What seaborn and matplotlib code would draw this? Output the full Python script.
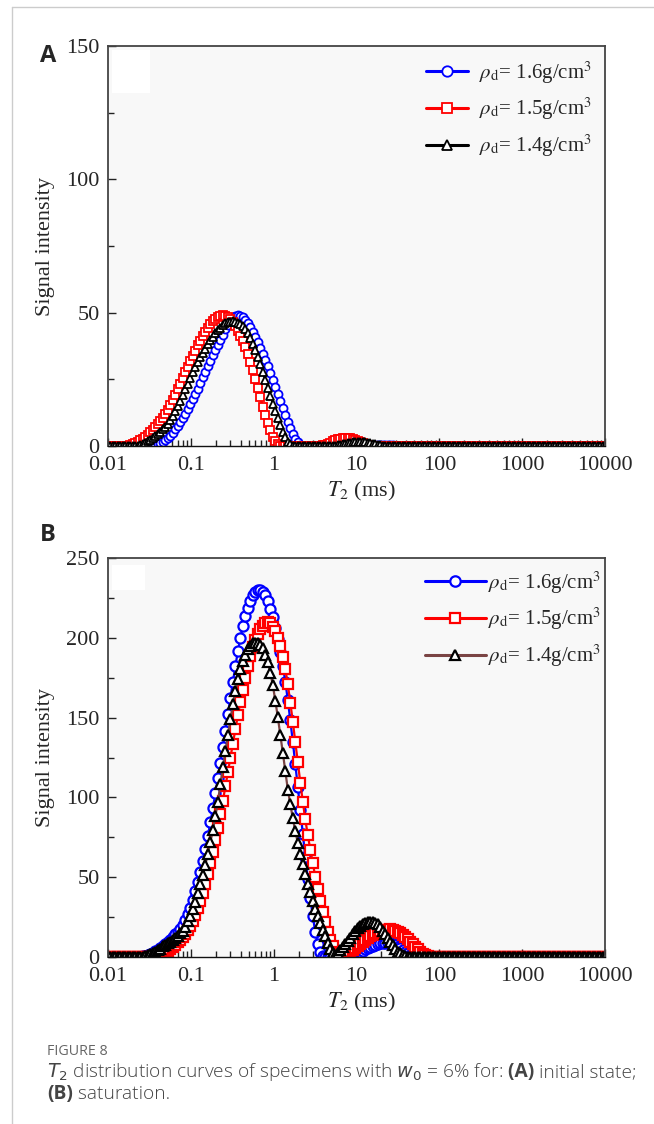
#!/usr/bin/env python3
"""
T2 distribution curves (NMR) for specimens with w0 = 6%
Panel A: initial state, panel B: saturation
"""

import numpy as np
import matplotlib
matplotlib.use("Agg")
import matplotlib.pyplot as plt
import seaborn as sns
from matplotlib.lines import Line2D
from matplotlib.patches import Rectangle
from matplotlib.ticker import LogLocator, MultipleLocator, NullFormatter

# T2 inversion grid of the NMR analyser: 200 points, log spaced 0.01 - 10000 ms
T2_GRID = np.logspace(-2, 4, 200)

# ---- panel A: initial state ----
a_rho16 = [0.0] * 19 + [
    0.3, 0.6, 1.0, 1.5, 2.3, 3.0, 3.9, 5.0, 6.2, 7.4,
    8.9, 10.4, 12.0, 13.8, 15.6, 17.5, 19.5, 21.5, 23.6, 25.7,
    27.8, 30.0, 32.0, 34.1, 36.1, 38.0, 39.9, 41.8, 43.7, 45.4,
    46.8, 48.1, 48.8, 49.1, 48.9, 48.3, 47.4, 46.1, 44.6, 42.9,
    41.0, 39.0, 36.8, 34.6, 32.2, 29.9, 27.4, 24.9, 22.3, 19.6,
    16.8, 14.2, 11.6, 9.0, 6.7, 4.6, 2.8, 1.5, 0.5,
] + [0.0] * 25 + [
    0.1, 0.15, 0.2, 0.3, 0.35, 0.4, 0.4, 0.4, 0.4, 0.35, 0.3, 0.2, 0.15, 0.1,
] + [0.0] * 83

a_rho15 = [0.0] * 9 + [
    0.3, 0.7, 1.0, 1.5, 2.1, 2.7, 3.5, 4.3, 5.1, 6.0,
    7.0, 8.2, 9.4, 10.6, 12.1, 13.6, 15.3, 17.2, 19.1, 21.2,
    23.3, 25.5, 27.7, 29.8, 31.9, 33.9, 35.8, 37.7, 39.4, 41.2,
    42.9, 44.4, 45.7, 46.8, 47.7, 48.4, 48.8, 49.0, 48.9, 48.3,
    47.5, 46.4, 44.9, 43.2, 41.3, 39.2, 37.0, 34.5, 31.6, 28.5,
    25.2, 21.7, 18.2, 14.8, 11.6, 8.6, 5.9, 3.5, 1.7, 0.6,
] + [0.0] * 17 + [
    0.2, 0.5, 0.9, 1.3, 1.7, 2.1, 2.5, 2.8, 2.95, 3.0,
    3.0, 2.9, 2.7, 2.4, 2.0, 1.6, 1.2, 0.8, 0.5, 0.2,
] + [0.0] * 94

a_rho14 = [0.0] * 13 + [
    0.4, 0.8, 1.2, 1.7, 2.3, 2.9, 3.6, 4.5, 5.3, 6.3,
    7.3, 8.4, 9.7, 11.3, 13.0, 14.9, 17.0, 19.1, 21.3, 23.4,
    25.6, 27.7, 29.7, 31.5, 33.3, 34.9, 36.5, 38.1, 39.6, 41.0,
    42.2, 43.4, 44.4, 45.3, 46.0, 46.4, 46.6, 46.7, 46.6, 46.2,
    45.7, 44.9, 43.8, 42.2, 40.4, 38.3, 36.0, 33.4, 30.6, 27.7,
    24.7, 21.7, 18.8, 15.9, 13.1, 10.4, 7.7, 5.4, 3.3, 1.6,
    0.6,
] + [0.0] * 17 + [
    0.1, 0.3, 0.5, 0.7, 0.9, 1.1, 1.25, 1.4, 1.5, 1.5,
    1.5, 1.45, 1.35, 1.2, 1.0, 0.8, 0.6, 0.4, 0.2, 0.1,
] + [0.0] * 89

# ---- panel B: saturation ----
b_rho16 = [0.0] * 14 + [
    0.4, 0.9, 1.4, 2.0, 2.7, 3.7, 4.6, 5.8, 7.1, 8.4,
    9.6, 10.9, 12.5, 14.1, 15.7, 17.8, 20.2, 23.4, 27.0, 30.9,
    35.8, 41.1, 46.8, 53.1, 60.0, 67.7, 75.9, 84.4, 93.2, 102.6,
    112.2, 121.8, 131.8, 141.8, 152.1, 162.3, 172.6, 182.3, 191.5, 199.7,
    207.1, 213.8, 218.9, 223.3, 227.1, 229.0, 230.0, 230.0, 229.0, 226.7,
    223.0, 218.2, 213.0, 206.4, 199.2, 191.4, 182.6, 172.4, 161.0, 148.2,
    135.0, 120.9, 106.5, 91.8, 77.1, 62.8, 48.9, 36.9, 25.7, 15.5,
    8.3, 3.1, 0.9,
] + [0.0] * 9 + [
    0.4, 0.8, 1.3, 1.8, 2.5, 3.2, 4.0, 4.8, 5.6, 6.3,
    7.0, 7.6, 8.1, 8.5, 8.8, 9.0, 8.9, 8.6, 8.1, 7.4,
    6.5, 5.5, 4.4, 3.3, 2.2, 1.3, 0.6, 0.2,
] + [0.0] * 76

b_rho15 = [0.0] * 19 + [
    0.6, 1.0, 1.6, 2.2, 3.1, 4.0, 5.1, 6.4, 7.7, 9.2,
    10.8, 12.5, 14.3, 16.7, 19.3, 22.5, 26.2, 30.4, 35.1, 40.3,
    46.0, 52.3, 58.9, 65.8, 73.3, 81.0, 89.4, 97.7, 106.9, 115.8,
    124.8, 133.7, 142.7, 151.5, 159.7, 167.5, 175.1, 182.1, 188.4, 194.1,
    198.6, 202.5, 205.7, 207.7, 209.2, 209.8, 209.0, 207.0, 204.0, 200.0,
    194.8, 188.0, 180.4, 170.8, 159.4, 147.4, 134.6, 122.0, 109.3, 97.2,
    86.3, 76.2, 67.3, 58.7, 50.4, 42.7, 35.3, 28.2, 21.8, 15.7,
    10.6, 6.6, 3.3, 1.7, 0.8, 0.5, 1.1, 1.9, 2.9, 4.1,
    5.4, 6.6, 7.9, 9.2, 10.5, 11.8, 13.0, 14.0, 14.9, 15.7,
    16.3, 16.8, 17.1, 17.2, 17.3, 17.0, 16.6, 15.8, 14.8, 13.7,
    12.4, 11.0, 9.5, 7.9, 6.3, 4.7, 3.3, 2.1, 1.2, 0.6,
    0.2,
] + [0.0] * 70

b_rho14 = [0.0] * 15 + [
    0.6, 1.2, 1.9, 2.5, 3.2, 4.1, 5.1, 6.6, 7.5, 8.5,
    9.4, 10.7, 12.0, 13.2, 14.8, 16.6, 19.1, 22.3, 25.9, 30.1,
    34.6, 39.8, 45.5, 51.5, 57.9, 64.8, 72.0, 79.6, 88.2, 97.4,
    108.2, 118.8, 128.8, 139.1, 149.1, 158.6, 166.6, 173.9, 180.2, 185.2,
    189.5, 192.7, 195.1, 196.5, 196.8, 196.6, 195.6, 193.6, 189.5, 185.1,
    178.2, 170.2, 160.6, 150.2, 139.3, 128.0, 116.4, 104.9, 95.7, 87.0,
    78.7, 71.5, 64.6, 58.2, 51.8, 45.5, 40.5, 35.4, 30.2, 25.7,
    21.4, 17.2, 13.1, 9.0, 5.2, 2.7, 1.2, 2.4, 4.1, 6.0,
    7.9, 9.9, 12.2, 14.2, 16.0, 18.0, 19.4, 20.6, 21.5, 22.0,
    22.2, 21.9, 21.4, 20.6, 19.0, 16.3, 14.1, 11.8, 9.6, 7.3,
    5.3, 3.4, 2.2, 1.2, 0.5, 0.2,
] + [0.0] * 79

LABELS = [r"$\rho_{\rm d}$= 1.6g/cm$^3$",
          r"$\rho_{\rm d}$= 1.5g/cm$^3$",
          r"$\rho_{\rm d}$= 1.4g/cm$^3$"]
X_TICKS = [0.01, 0.1, 1, 10, 100, 1000, 10000]
X_TICKLABELS = ["0.01", "0.1", "1", "10", "100", "1000", "10000"]

W, H = 654, 1124
SERIF = ["Liberation Serif", "DejaVu Serif"]
SANS = ["Open Sans", "DejaVu Sans"]


def draw_panel(ax, values, line_colors, msize, mew, leg_msize, ymax,
               handlelen, handlepad, anchor):
    markers = ["o", "s", "^"]
    edges = ["#0000ff", "#ff0000", "#000000"]
    for y, lab, lc, ec, mk in zip(values, LABELS, line_colors, edges, markers):
        sns.lineplot(x=T2_GRID, y=y, ax=ax, color=lc, linewidth=1.6,
                     marker=mk, markersize=msize, markerfacecolor="white",
                     markeredgecolor=ec, markeredgewidth=mew, label=lab,
                     estimator=None, sort=False)

    ax.set_xscale("log")
    ax.set_xlim(0.01, 10000)
    ax.set_ylim(0, ymax)
    ax.set_xticks(X_TICKS)
    ax.set_xticklabels(X_TICKLABELS)
    ax.xaxis.set_minor_locator(LogLocator(base=10, subs=np.arange(2, 10)))
    ax.xaxis.set_minor_formatter(NullFormatter())
    ax.yaxis.set_major_locator(MultipleLocator(50))
    ax.yaxis.set_minor_locator(MultipleLocator(25))
    ax.tick_params(which="both", direction="in", top=False, right=False,
                   labelsize=16, color="#222222", width=1.0)
    ax.tick_params(axis="x", which="both", pad=7)
    ax.tick_params(axis="y", which="both", pad=6)
    ax.tick_params(which="major", length=6)
    ax.tick_params(which="minor", length=4)
    for lbl in ax.get_xticklabels() + ax.get_yticklabels():
        lbl.set_family(SERIF)

    ax.set_facecolor("#f8f8f8")
    for side in ["left", "top", "right"]:
        ax.spines[side].set_color("#444444")
        ax.spines[side].set_linewidth(1.3)
    ax.spines["bottom"].set_color("#111111")
    ax.spines["bottom"].set_linewidth(1.0)

    ax.set_ylabel("Signal intensity", fontsize=16, family=SERIF)
    ax.yaxis.set_label_coords(-0.107, 0.5)
    ax.set_xlabel(r"$T_2$ (ms)", fontsize=16, family=SERIF)
    ax.xaxis.set_label_coords(0.51, -0.085)

    leg = ax.legend(loc="upper left", bbox_to_anchor=anchor, frameon=False,
                    fontsize=15, handlelength=handlelen,
                    handletextpad=handlepad, labelspacing=0.5,
                    borderpad=0, borderaxespad=0)
    for t in leg.get_texts():
        t.set_family(SERIF)
    for h in leg.legend_handles:
        h.set_markersize(leg_msize)
        h.set_linewidth(2.2)


def put_runs(fig, x_px, y_px, runs, **kw):
    renderer = fig.canvas.get_renderer()
    x = x_px
    for s, weight in runs:
        t = fig.text(x / W, 1 - y_px / H, s, fontweight=weight, ha="left",
                     va="baseline", **kw)
        x += t.get_window_extent(renderer).width


def main():
    sns.set_style("ticks")
    plt.rcParams["font.family"] = SERIF
    plt.rcParams["mathtext.fontset"] = "stix"

    fig = plt.figure(figsize=(W / 100, H / 100), dpi=100)
    ax_a = fig.add_axes([108 / W, 1 - 446 / H, 497 / W, 400 / H])
    ax_b = fig.add_axes([108 / W, 1 - 957 / H, 497 / W, 399 / H])

    draw_panel(ax_a, [a_rho16, a_rho15, a_rho14],
               ["#0000ff", "#ff0000", "#000000"],
               msize=5.8, mew=1.3, leg_msize=7.5, ymax=150, handlelen=2.0,
               handlepad=0.55, anchor=(0.64, 0.967))
    draw_panel(ax_b, [b_rho16, b_rho15, b_rho14],
               ["#0000ff", "#ff0000", "#7a4444"],
               msize=7.3, mew=1.6, leg_msize=7.5, ymax=250, handlelen=2.9,
               handlepad=0.1, anchor=(0.638, 0.972))

    # blank boxes left in the original figure
    ax_a.add_patch(Rectangle((0.008, 0.8825), 0.076, 0.1075,
                             transform=ax_a.transAxes, color="white",
                             zorder=0.5, linewidth=0))
    ax_b.add_patch(Rectangle((0.008, 0.92), 0.066, 0.063,
                             transform=ax_b.transAxes, color="white",
                             zorder=0.5, linewidth=0))

    # panel letters
    fig.text(40 / W, 1 - 56 / H, "A", fontsize=17, fontweight="bold",
             family=SANS, va="center", ha="left")
    fig.text(40 / W, 1 - 535 / H, "B", fontsize=17, fontweight="bold",
             family=SANS, va="center", ha="left")

    # page frame
    fig.add_artist(Line2D([12 / W, 12 / W], [0, 1 - 7 / H], color="#cccccc",
                          linewidth=1.0))
    fig.add_artist(Line2D([12 / W, 1], [1 - 7 / H, 1 - 7 / H],
                          color="#cccccc", linewidth=1.0))

    # caption
    fig.text(47 / W, 1 - 1055 / H, "FIGURE 8", fontsize=10.3, family=SANS,
             color="#666666", ha="left", va="baseline")
    cap = dict(fontsize=13.8, family=SANS, color="#444444",
               math_fontfamily="dejavusans")
    put_runs(fig, 47, 1077,
             [(r"$T_2$ distribution curves of specimens with $w_0$ = 6% for:",
               "light"), (" (A)", "bold"), (" initial state;", "light")],
             **cap)
    put_runs(fig, 47, 1099, [("(B)", "bold"), (" saturation.", "light")],
             **cap)

    fig.savefig("out.png", dpi=100)
    plt.close(fig)


if __name__ == "__main__":
    main()
